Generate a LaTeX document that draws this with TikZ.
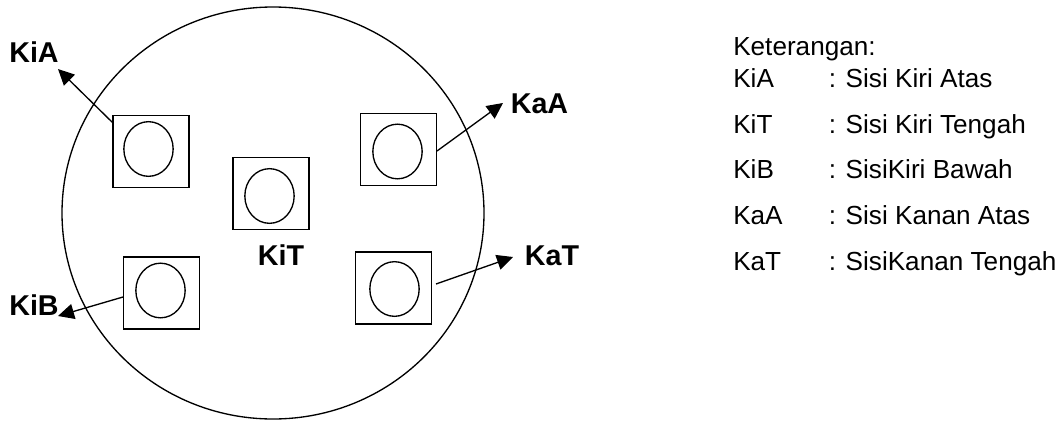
\documentclass[tikz,border=0pt]{standalone}
\usepackage{fontspec}
\setmainfont{Liberation Sans}
\usetikzlibrary{arrows.meta,shapes.geometric}
\tikzset{
 pad/.style={draw,line width=1pt,minimum width=57pt,minimum height=54pt,inner sep=0pt},
 hole/.style={draw,ellipse,line width=1pt,inner sep=0pt,minimum width=37pt,minimum height=41pt},
 lbl/.style={font=\fontsize{21.5}{24}\selectfont\bfseries,inner sep=0pt},
 txt/.style={font=\fontsize{19.6}{23}\selectfont,inner sep=0pt,anchor=base west},
 arr/.style={line width=1pt,-{Triangle[length=12pt,width=11.5pt]}}
}
\begin{document}
\begin{tikzpicture}[x=0.75pt,y=-0.75pt]
\useasboundingbox (0,0) rectangle (1063,421);
\node[draw,ellipse,line width=1pt,minimum width=316.5pt,minimum height=309pt,inner sep=0pt] (wafer) at (273,213) {};
\node[pad] (a) at (151,151.5) {};
\node[hole] (ah) at (148.5,149) {};
\node[pad] (b) at (398.5,149.5) {};
\node[hole] (bh) at (397.5,151.5) {};
\node[pad] (c) at (271,193.5) {};
\node[hole] (ch) at (269.5,196) {};
\node[pad] (d) at (161.5,293) {};
\node[hole] (dh) at (160.5,290.5) {};
\node[pad] (e) at (393.5,288) {};
\node[hole] (eh) at (394.5,289) {};
\node[lbl] (kia) at (34,52.5) {KiA};
\node[lbl] (kaa) at (539.5,103.5) {KaA};
\node[lbl] (kit) at (281,255.5) {KiT};
\node[lbl] (kib) at (34,305.5) {KiB};
\node[lbl] (kat) at (552,255.5) {KaT};
\coordinate (as) at (112.5,122.5);
\coordinate (bs) at (437,151);
\coordinate (ds) at (123,297);
\coordinate (es) at (436,284);
\coordinate (ae) at (58,69);
\coordinate (be) at (503,103);
\coordinate (de) at (58,316);
\coordinate (ee) at (513,257);
\draw[arr] (as) -- (ae);
\draw[arr] (bs) -- (be);
\draw[arr] (ds) -- (de);
\draw[arr] (es) -- (ee);
\node[txt] at (733,55) {Keterangan:};
\foreach \y/\k/\v in {87/KiA/: Sisi Kiri Atas,133/KiT/: Sisi Kiri Tengah,178/KiB/: SisiKiri Bawah,224/KaA/: Sisi Kanan Atas,270/KaT/: SisiKanan Tengah}{
 \node[txt] at (733,\y) {\k};
 \node[txt] at (828.5,\y) {\v};
}
\end{tikzpicture}
\end{document}
